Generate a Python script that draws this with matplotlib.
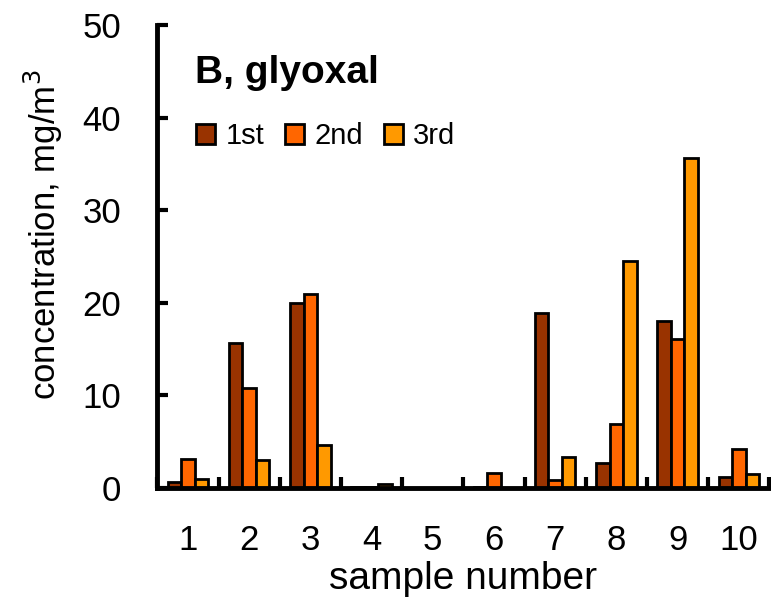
import numpy as np
import matplotlib
matplotlib.use("Agg")
import matplotlib.pyplot as plt

plt.rcParams['font.family'] = ['Liberation Sans', 'DejaVu Sans']

samples = ["1", "2", "3", "4", "5", "6", "7", "8", "9", "10"]
first = [0.6, 15.7, 20.0, 0.1, 0.0, 0.1, 18.9, 2.7, 18.0, 1.2]
second = [3.1, 10.8, 21.0, 0.1, 0.0, 1.6, 0.8, 6.9, 16.1, 4.2]
third = [1.0, 3.0, 4.6, 0.4, 0.0, 0.0, 3.3, 24.5, 35.7, 1.5]

series = [("1st", first, "#993300"), ("2nd", second, "#FF6600"), ("3rd", third, "#FF9900")]

fig = plt.figure(figsize=(7.71, 6.0), dpi=100)
ax = fig.add_axes([0.204, 0.187, 0.794, 0.771])

x = np.arange(len(samples))
w = 0.22
for i, (name, vals, col) in enumerate(series):
    ax.bar(x + (i - 1) * w, vals, w, color=col, edgecolor="black", linewidth=2,
           label=name, zorder=2)

ax.set_xlim(-0.5, len(samples) - 0.5)
ax.set_ylim(0, 50)
ax.set_yticks([0, 10, 20, 30, 40, 50])
ax.set_xticks(x)
ax.set_xticklabels(samples)
ax.set_xticks(np.arange(len(samples) + 1) - 0.5, minor=True)

for s in ["top", "right"]:
    ax.spines[s].set_visible(False)
for s in ["left", "bottom"]:
    ax.spines[s].set_linewidth(3.5)
    ax.spines[s].set_zorder(3)

ax.tick_params(axis="y", direction="in", length=8, width=3, labelsize=25, pad=26)
ax.tick_params(axis="x", which="major", length=0, labelsize=25, pad=26)
ax.tick_params(axis="x", which="minor", direction="in", length=8, width=3)

ax.set_xlabel("sample number", fontsize=28, labelpad=3)
ax.set_ylabel("concentration, mg/m$^3$", fontsize=25)
ax.yaxis.set_label_coords(-0.15, 0.546)

ax.text(0.062, 0.897, "B, glyoxal", transform=ax.transAxes, fontsize=28,
        fontweight="bold", va="center")
ax.legend(loc="upper left", bbox_to_anchor=(0.045, 0.815), ncol=3, frameon=False,
          fontsize=21, handlelength=0.65, handleheight=0.65, handletextpad=0.35,
          columnspacing=0.72, borderaxespad=0)

fig.savefig("out.png", dpi=100)
